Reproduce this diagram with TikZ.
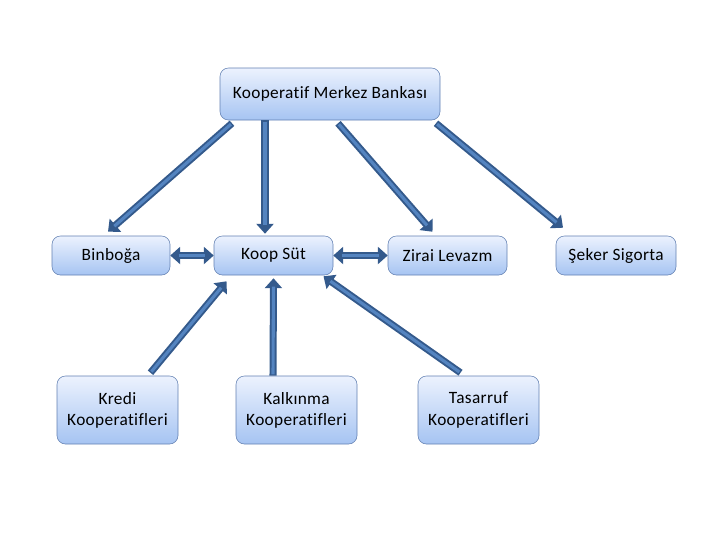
\documentclass[tikz,border=0pt]{standalone}
\usepackage{fontspec}
\setmainfont{Carlito}[Ligatures=NoCommon, LetterSpace=2]
\usetikzlibrary{arrows.meta}
\definecolor{boxtop}{RGB}{236,242,254}
\definecolor{boxbot}{RGB}{166,196,242}
\definecolor{boxline}{RGB}{98,128,178}
\definecolor{arrdark}{RGB}{52,90,140}
\definecolor{arrlight}{RGB}{84,132,192}
\begin{document}
\begin{tikzpicture}[x=0.025cm, y=-0.025cm,
  every node/.style={font=\fontsize{12.3}{15}\selectfont},
  box/.style={draw=boxline, rounded corners=6pt, align=center, top color=boxtop, bottom color=boxbot, minimum height=39*0.025cm},
  blk/.style={draw=arrdark, line width=5pt, -{Triangle[width=12pt,length=7pt]},
    postaction={draw=arrlight, line width=2.2pt, -, shorten >=6pt, shorten <=1pt}},
  blkboth/.style={draw=arrdark, line width=5pt, {Triangle[width=12pt,length=7pt]}-{Triangle[width=12pt,length=7pt]},
    postaction={draw=arrlight, line width=2.2pt, -, shorten >=6pt, shorten <=6pt}}
]
  \useasboundingbox (0,0) rectangle (720,540);
  \node[box, minimum width=220*0.025cm, minimum height=52*0.025cm] (merkez) at (330,94) {Kooperatif Merkez Bankası};
  \node[box, minimum width=118*0.025cm] (binboga) at (111,255.5) {Binboğa};
  \node[box, minimum width=119*0.025cm] (koopsut) at (273.5,255.5) {Koop Süt};
  \node[box, minimum width=119*0.025cm] (zirai) at (447.5,255.5) {Zirai Levazm};
  \node[box, minimum width=120*0.025cm] (seker) at (616,255.5) {Şeker Sigorta};
  \node[box, minimum width=121*0.025cm, minimum height=68*0.025cm] (kredi) at (117.5,410) {Kredi\\Kooperatifleri};
  \node[box, minimum width=121*0.025cm, minimum height=68*0.025cm] (kalkinma) at (296.5,410) {Kalkınma\\Kooperatifleri};
  \node[box, minimum width=121*0.025cm, minimum height=68*0.025cm] (tasarruf) at (478.5,410) {Tasarruf\\Kooperatifleri};

  % from the bank down
  \draw[blk] ([xshift=-98*0.025cm,yshift=-3*0.025cm]merkez.south) -- ([xshift=-3*0.025cm,yshift=4*0.025cm]binboga.north);
  \draw[blk] ([xshift=-65*0.025cm]merkez.south) -- ([xshift=-8.5*0.025cm,yshift=2*0.025cm]koopsut.north);
  \draw[blk] ([xshift=8*0.025cm,yshift=-3*0.025cm]merkez.south) -- ([xshift=-15*0.025cm,yshift=4*0.025cm]zirai.north);
  \draw[blk] ([xshift=106*0.025cm,yshift=-3*0.025cm]merkez.south) -- ([xshift=-53*0.025cm,yshift=8*0.025cm]seker.north);

  % sideways
  \draw[blkboth] (binboga.east) -- (koopsut.west);
  \draw[blkboth] (koopsut.east) -- (zirai.west);

  % up into Koop Süt
  \draw[blk] ([xshift=33*0.025cm,yshift=3*0.025cm]kredi.north) -- ([xshift=-47*0.025cm,yshift=-6*0.025cm]koopsut.south);
  \draw[blk] ([xshift=-23.5*0.025cm]kalkinma.north) -- ([xshift=0*0.025cm,yshift=-3*0.025cm]koopsut.south);
  \draw[blk] ([xshift=-18*0.025cm,yshift=3*0.025cm]tasarruf.north) -- ([xshift=50*0.025cm,yshift=-1*0.025cm]koopsut.south);
\end{tikzpicture}
\end{document}
